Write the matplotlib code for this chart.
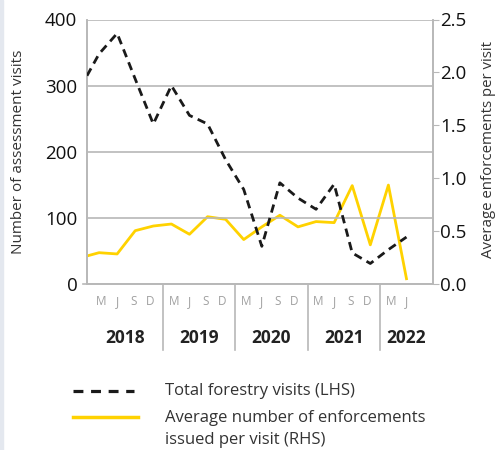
import matplotlib
matplotlib.use("Agg")
import matplotlib.pyplot as plt
import matplotlib.transforms as mtransforms
from matplotlib.patches import Rectangle
from matplotlib.lines import Line2D

plt.rcParams['font.family'] = ['Open Sans', 'DejaVu Sans']

# Data: month index from Jan 2018 (0) ; points at Jan18, then Mar/Jun/Sep/Dec
months = [0, 2, 5, 8, 11, 14, 17, 20, 23, 26, 29, 32, 35, 38, 41, 44, 47, 50, 53]
visits = [315, 348, 379, 310, 242, 300, 255, 242, 188, 143, 57, 153, 130, 113, 151, 47, 31, 52, 71]
enforcements = [0.265, 0.296, 0.284, 0.504, 0.548, 0.567, 0.47, 0.636, 0.611, 0.42,
                0.54, 0.65, 0.54, 0.59, 0.58, 0.93, 0.37, 0.935, 0.05]

years = ['2018', '2019', '2020', '2021', '2022']
year_bounds = [0, 12.6, 24.6, 36.6, 48.6, 57.4]
month_labels = ['M', 'J', 'S', 'D']
month_offsets = [2.4, 5.0, 7.7, 10.4]

W, H = 495, 450
fig = plt.figure(figsize=(W / 100, H / 100), dpi=100)
fig.patch.set_facecolor('white')
fig.patches.append(Rectangle((0, 0), 2.5 / W, 1, transform=fig.transFigure,
                             color='#e4e8ef', zorder=0))

left, right = 87 / W, 433 / W
bottom, top = 1 - 284 / H, 1 - 19.5 / H
ax = fig.add_axes([left, bottom, right - left, top - bottom])
ax2 = ax.twinx()

grid_c = '#b8b8b8'
ax.set_xlim(0, 57.4)
ax.set_ylim(0, 400)
ax2.set_ylim(0, 2.5)

ax.set_yticks([0, 100, 200, 300, 400])
ax.yaxis.grid(True, color=grid_c, linewidth=1.2)
ax.set_axisbelow(True)
ax.tick_params(axis='y', length=0, labelsize=13.5, labelcolor='#111111', pad=7)
ax.set_xticks([])
ax2.set_yticks([0, 0.5, 1.0, 1.5, 2.0, 2.5])
ax2.set_yticklabels(['0.0', '0.5', '1.0', '1.5', '2.0', '2.5'])
ax2.tick_params(axis='y', length=4, color=grid_c, labelsize=13.5, labelcolor='#111111', pad=1)

for a in (ax, ax2):
    a.spines['top'].set_visible(False)
    for s in ('left', 'right', 'bottom'):
        a.spines[s].set_color(grid_c)
        a.spines[s].set_linewidth(1.2)

# small tick at zero on the left
ax.plot([-0.012, 0], [0, 0], transform=ax.transAxes, color=grid_c, lw=1.2, clip_on=False)

ax.plot(months, visits, color='#1a1a1a', lw=2.0, dashes=(3, 2), zorder=3)
ax2.plot(months, enforcements, color='#FFD200', lw=2.0, zorder=2)
ax.set_zorder(ax2.get_zorder() + 1)
ax.patch.set_visible(False)

trans = mtransforms.blended_transform_factory(ax.transData, ax.transAxes)
for b in year_bounds[1:-1]:
    ax.plot([b, b], [0, -0.25], transform=trans, color=grid_c, lw=1.2, clip_on=False)

for i, y in enumerate(years):
    start = 12 * i
    for lab, off in zip(month_labels, month_offsets):
        pos = start + off
        if i == 4 and lab in ('S', 'D'):
            continue
        ax.text(pos, -0.067, lab, transform=trans, ha='center', va='center',
                fontsize=8.5, color='#a0a0a0')
    ax.text((year_bounds[i] + year_bounds[i + 1]) / 2, -0.205, y, transform=trans,
            ha='center', va='center', fontsize=12.5, fontweight='bold', color='#222222')

fig.text(19 / W, 1 - 152 / H, 'Number of assessment visits', rotation=90,
         ha='center', va='center', fontsize=11, color='#333333')
fig.text(488 / W, 1 - 150 / H, 'Average enforcements per visit', rotation=90,
         ha='center', va='center', fontsize=10.8, color='#333333')

# Legend
fig.lines.append(Line2D([73 / W, 134 / W], [1 - 391 / H] * 2, transform=fig.transFigure,
                        color='#1a1a1a', lw=2.3, dashes=(3.1, 2.4)))
fig.lines.append(Line2D([73 / W, 138 / W], [1 - 417 / H] * 2, transform=fig.transFigure,
                        color='#FFD200', lw=2.5))
fig.text(165 / W, 1 - 391 / H, 'Total forestry visits (LHS)', ha='left', va='center',
         fontsize=12, color='#333333')
fig.text(165 / W, 1 - 418 / H, 'Average number of enforcements', ha='left', va='center',
         fontsize=12, color='#333333')
fig.text(165 / W, 1 - 440 / H, 'issued per visit (RHS)', ha='left', va='center',
         fontsize=12, color='#333333')

fig.savefig('out.png', dpi=100)
